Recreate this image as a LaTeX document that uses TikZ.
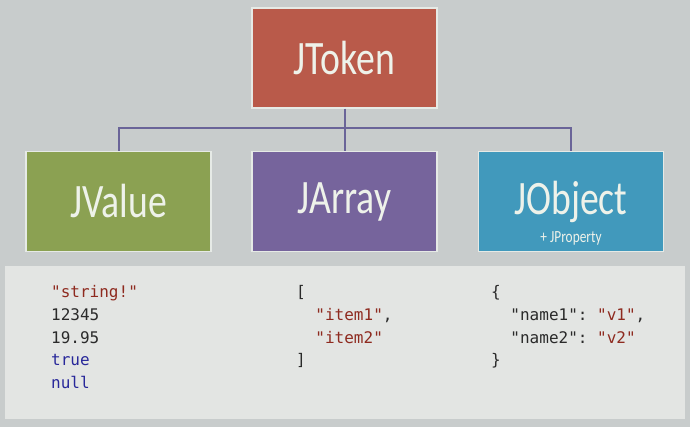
\documentclass[tikz,border=0pt]{standalone}
\usepackage{xcolor}
\usepackage{fontspec}
\setmainfont{Carlito}
\setmonofont{DejaVu Sans Mono}
\newfontfamily\titlefont[FakeStretch=0.785]{Carlito}
\usepackage{tikz}
\usetikzlibrary{positioning}

\definecolor{bggray}{HTML}{C8CCCC}
\definecolor{panelgray}{HTML}{E3E5E3}
\definecolor{boxedge}{HTML}{E6EAE6}
\definecolor{boxtext}{HTML}{EEF2EA}
\definecolor{tokenred}{HTML}{B95A4A}
\definecolor{valuegreen}{HTML}{8BA152}
\definecolor{arraypurple}{HTML}{76649C}
\definecolor{objectblue}{HTML}{4199BC}
\definecolor{buscol}{HTML}{6A6498}
\definecolor{strcol}{HTML}{8E2A1F}
\definecolor{kwcol}{HTML}{28289A}
\definecolor{numcol}{HTML}{2A2A2A}

\begin{document}
\begin{tikzpicture}[
    x=1pt, y=-1pt,
    typebox/.style={rectangle, draw=boxedge, line width=1.5pt, minimum width=185pt, minimum height=100pt, inner sep=0pt, text=boxtext, font=\titlefont\fontsize{48}{48}\selectfont},
    bus/.style={draw=buscol, line width=2pt},
    codeline/.style={anchor=base west, inner sep=0pt, font=\ttfamily\fontsize{16}{22.5}\selectfont, text=numcol}
]
\useasboundingbox[fill=bggray] (0,0) rectangle (690,427);
\fill[panelgray] (5,266) rectangle (685,419);

% class boxes
\node[typebox, fill=tokenred] (jtoken) at (344.5,58) {JToken};
\node[typebox, fill=arraypurple, below=42pt of jtoken] (jarray) {JArray};
\node[typebox, fill=valuegreen, left=39.5pt of jarray] (jvalue) {JValue};
\node[typebox, fill=objectblue, right=40pt of jarray] (jobject) {JObject};
\node[anchor=base, text=boxtext, font=\titlefont\fontsize{17}{17}\selectfont] (jprop) at ([yshift=10pt]jobject.south) {+ JProperty};

% connectors
\coordinate (busmid) at (344.5,128);
\draw[bus] (jtoken.south) -- (busmid);
\draw[bus] (jvalue.north) |- (busmid) -| (jobject.north);
\draw[bus] (busmid) -- (jarray.north);

% JValue examples
\node[codeline, text=strcol] (vstr) at (51,298) {"string!"};
\node[codeline] (vint) at (51,320.5) {12345};
\node[codeline] (vfloat) at (51,343) {19.95};
\node[codeline, text=kwcol] (vtrue) at (51,365.5) {true};
\node[codeline, text=kwcol] (vnull) at (51,388) {null};

% JArray example
\node[codeline] (aopen) at (296,298) {[};
\node[codeline] (aitem1) at (296,320.5) {\hphantom{xx}\textcolor{strcol}{"item1"},};
\node[codeline] (aitem2) at (296,343) {\hphantom{xx}\textcolor{strcol}{"item2"}};
\node[codeline] (aclose) at (296,365.5) {]};

% JObject example
\node[codeline] (oopen) at (491,298) {\{};
\node[codeline] (oname1) at (491,320.5) {\hphantom{xx}"name1": \textcolor{strcol}{"v1"},};
\node[codeline] (oname2) at (491,343) {\hphantom{xx}"name2": \textcolor{strcol}{"v2"}};
\node[codeline] (oclose) at (491,365.5) {\}};
\end{tikzpicture}
\end{document}
